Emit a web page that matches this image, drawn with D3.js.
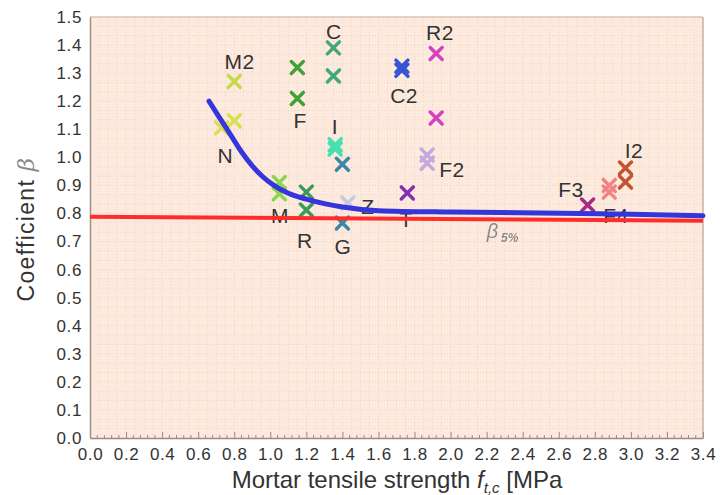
<!DOCTYPE html>
<html>
<head>
<meta charset="utf-8">
<script src="https://cdn.jsdelivr.net/npm/d3@7"></script>
<style>
	body { margin: 0; background: #fff; }
	text { font-family: 'Liberation Sans', Arial, sans-serif; fill: #333; }
</style>
</head>
<body>
<div id="chart-area"></div>
<script>

//************* Data *************//

// measured specimens: series name, x (f_t,c) and y (beta)
const pointSeries = ['M2', 'N', 'N', 'F', 'F', 'C', 'C', 'I', 'I', 'G', 'G', 'M', 'M', 'R', 'R', 'Z',
	'C2', 'C2', 'R2', 'R2', 'F2', 'F2', 'T', 'F3', 'F4', 'F4', 'I2', 'I2'];
const pointX = [0.80, 0.80, 0.73, 1.15, 1.15, 1.35, 1.35, 1.36, 1.36, 1.40, 1.40, 1.05, 1.05, 1.20, 1.20, 1.43,
	1.73, 1.73, 1.92, 1.92, 1.87, 1.87, 1.76, 2.76, 2.88, 2.88, 2.97, 2.97];
const pointY = [1.27, 1.13, 1.105, 1.32, 1.21, 1.39, 1.29, 1.045, 1.03, 0.975, 0.766, 0.91, 0.87, 0.876, 0.812, 0.837,
	1.31, 1.325, 1.37, 1.14, 1.008, 0.979, 0.873, 0.83, 0.90, 0.876, 0.962, 0.912];

const seriesNames = ['M2', 'N', 'F', 'C', 'I', 'G', 'M', 'R', 'Z', 'C2', 'R2', 'F2', 'T', 'F3', 'F4', 'I2'];
const seriesColors = ['#c8d84a', '#d8e050', '#3fa234', '#43a87c', '#45e0ae', '#3a88a6', '#8cd64e', '#3a9a58',
	'#c4cae0', '#3556d2', '#d443c2', '#c2aadc', '#8232b0', '#a42c84', '#f08484', '#c0552e'];

// series labels (placed in data units)
const labelNames = ['M2', 'N', 'F', 'C', 'I', 'M', 'R', 'G', 'Z', 'C2', 'R2', 'F2', 'T', 'F3', 'F4', 'I2'];
const labelX = [0.83, 0.75, 1.165, 1.353, 1.359, 1.054, 1.192, 1.403, 1.542, 1.742, 1.941, 2.008, 1.753, 2.668, 2.917, 3.017];
const labelY = [1.343, 1.008, 1.133, 1.450, 1.111, 0.794, 0.705, 0.684, 0.826, 1.222, 1.446, 0.955, 0.777, 0.887, 0.791, 1.026];

// fitted curve (blue)
const fitX = [0.66, 0.72, 0.78, 0.84, 0.90, 0.96, 1.02, 1.10, 1.20, 1.30, 1.40, 1.60, 2.00, 2.50, 3.00, 3.40];
const fitY = [1.20, 1.14, 1.08, 1.02, 0.97, 0.93, 0.90, 0.872, 0.851, 0.835, 0.823, 0.810, 0.805, 0.802, 0.797, 0.792];

// beta 5% line (red)
const limitX = [0.0, 3.4];
const limitY = [0.788, 0.774];

// ticks
const xTickValues = [0.0, 0.2, 0.4, 0.6, 0.8, 1.0, 1.2, 1.4, 1.6, 1.8, 2.0, 2.2, 2.4, 2.6, 2.8, 3.0, 3.2, 3.4];
const yTickValues = [0.0, 0.1, 0.2, 0.3, 0.4, 0.5, 0.6, 0.7, 0.8, 0.9, 1.0, 1.1, 1.2, 1.3, 1.4, 1.5];

//************* Canvas Set Up *************//

let margin = { left: 90, right: 19, top: 17, bottom: 57 };
let width = 722 - margin.left - margin.right;
let height = 495 - margin.top - margin.bottom;

let svg = d3.select('#chart-area').append('svg')
	.attr('width', 722)
	.attr('height', 495);

let defs = svg.append('defs');
defs.append('filter')
	.attr('id', 'soft')
	.append('feGaussianBlur')
	.attr('stdDeviation', 0.6);

let g = svg.append('g')
	.attr('transform', 'translate(' + margin.left + ', ' + margin.top + ')');

let x = d3.scaleLinear().domain([0, 3.4]).range([0, width]);
let y = d3.scaleLinear().domain([0, 1.5]).range([height, 0]);
let color = d3.scaleOrdinal().domain(seriesNames).range(seriesColors);

// plot background
g.append('rect')
	.attr('width', width)
	.attr('height', height)
	.attr('fill', '#fdeadf');

// dotted fine grid
g.append('g')
	.selectAll('line')
	.data(d3.range(0.05, 3.4, 0.05))
	.enter().append('line')
		.attr('x1', d => x(d)).attr('x2', d => x(d))
		.attr('y1', 0).attr('y2', height)
		.attr('stroke', '#f4cbb5')
		.attr('stroke-width', 0.8)
		.attr('stroke-dasharray', '1,2');
g.append('g')
	.selectAll('line')
	.data(d3.range(1, 45).map(i => i / 30))
	.enter().append('line')
		.attr('x1', 0).attr('x2', width)
		.attr('y1', d => y(d)).attr('y2', d => y(d))
		.attr('stroke', '#f4cbb5')
		.attr('stroke-width', 0.8)
		.attr('stroke-dasharray', '1,2');

// frame
g.append('line').attr('x1', 0).attr('x2', width).attr('y1', 0).attr('y2', 0)
	.attr('stroke', '#d9c4b6').attr('stroke-width', 1.5);
g.append('line').attr('x1', width).attr('x2', width).attr('y1', 0).attr('y2', height)
	.attr('stroke', '#c2b2a6').attr('stroke-width', 1.5);

// x axis (ticks pointing inward)
let xAxisCall = d3.axisBottom(x)
	.tickValues(xTickValues)
	.tickFormat(d3.format('.1f'))
	.tickSizeInner(-6)
	.tickSizeOuter(0)
	.tickPadding(10);
let xAxis = g.append('g')
	.attr('class', 'x-axis')
	.attr('transform', 'translate(0, ' + height + ')')
	.call(xAxisCall);
xAxis.select('.domain').attr('stroke', '#9a8a80').attr('stroke-width', 1.5);
xAxis.selectAll('.tick line').attr('stroke', '#9a8a80');
xAxis.selectAll('text')
	.attr('font-size', '17px')
	.attr('letter-spacing', '0.6px')
	.attr('fill', '#333');

// minor x ticks
xAxis.append('g')
	.selectAll('line')
	.data(d3.range(0.04, 3.4, 0.04).filter(d => Math.abs(d / 0.2 - Math.round(d / 0.2)) > 0.01))
	.enter().append('line')
		.attr('x1', d => x(d)).attr('x2', d => x(d))
		.attr('y1', 0).attr('y2', -3)
		.attr('stroke', '#9a8a80');

// y axis (labels only)
let yAxisCall = d3.axisLeft(y)
	.tickValues(yTickValues)
	.tickFormat(d3.format('.1f'))
	.tickSize(0)
	.tickPadding(8);
let yAxis = g.append('g')
	.attr('class', 'y-axis')
	.call(yAxisCall);
yAxis.select('.domain').attr('stroke', '#a09084').attr('stroke-width', 1.5);
yAxis.selectAll('text')
	.attr('font-size', '17px')
	.attr('letter-spacing', '0.6px')
	.attr('fill', '#333');

// series labels
g.append('g')
	.selectAll('text')
	.data(labelNames)
	.enter().append('text')
		.attr('x', (d, i) => x(labelX[i]))
		.attr('y', (d, i) => y(labelY[i]))
		.attr('text-anchor', 'middle')
		.attr('dominant-baseline', 'central')
		.attr('font-size', '21px')
		.attr('letter-spacing', '0.5px')
		.attr('fill', '#383838')
		.text(d => d);

// markers
g.append('g')
	.attr('filter', 'url(#soft)')
	.selectAll('path')
	.data(pointX)
	.enter().append('path')
		.attr('transform', (d, i) => 'translate(' + x(d) + ',' + y(pointY[i]) + ')')
		.attr('d', 'M-6,-6L6,6M-6,6L6,-6')
		.attr('stroke', (d, i) => color(pointSeries[i]))
		.attr('stroke-width', 3.5)
		.attr('stroke-linecap', 'round')
		.attr('fill', 'none');

// red beta 5% line
let limitData = limitX.map((d, i) => [d, limitY[i]]);
g.append('path')
	.datum(limitData)
	.attr('d', d3.line().x(d => x(d[0])).y(d => y(d[1])))
	.attr('stroke', '#ff2c2c')
	.attr('stroke-width', 4)
	.attr('fill', 'none');

// blue fitted curve
let fitData = fitX.map((d, i) => [d, fitY[i]]);
g.append('path')
	.datum(fitData)
	.attr('d', d3.line().curve(d3.curveMonotoneX).x(d => x(d[0])).y(d => y(d[1])))
	.attr('stroke', '#3535dc')
	.attr('stroke-width', 5)
	.attr('stroke-linecap', 'round')
	.attr('fill', 'none');

// beta 5% annotation
let b5 = g.append('text')
	.attr('x', x(2.20))
	.attr('y', y(0.737) + 7)
	.attr('fill', '#8c8c8c');
b5.append('tspan')
	.attr('font-size', '20px')
	.attr('font-style', 'italic')
	.attr('fill', '#8c8c8c')
	.text('β');
b5.append('tspan')
	.attr('font-size', '12px')
	.attr('font-style', 'italic')
	.attr('font-weight', 'bold')
	.attr('dx', 3)
	.attr('dy', 4)
	.attr('fill', '#8c8c8c')
	.text('5%');

// x label
let xLabel = svg.append('text')
	.attr('class', 'x-axis-label')
	.attr('x', 397)
	.attr('y', 488)
	.attr('font-size', '24px')
	.attr('text-anchor', 'middle');
xLabel.append('tspan').text('Mortar tensile strength ');
xLabel.append('tspan').attr('font-style', 'italic').text('f');
xLabel.append('tspan').attr('font-style', 'italic').attr('font-size', '15px').attr('dy', 5).text('t,c');
xLabel.append('tspan').attr('dy', -5).text(' [MPa');

// y label
let yLabel = svg.append('text')
	.attr('class', 'y-axis-label')
	.attr('transform', 'translate(34, 229) rotate(-90)')
	.attr('font-size', '23px')
	.attr('letter-spacing', '1.3px')
	.attr('text-anchor', 'middle');
yLabel.append('tspan').text('Coefficient ');
yLabel.append('tspan')
	.attr('font-family', "'DejaVu Serif', serif")
	.attr('font-style', 'italic')
	.attr('font-weight', 300)
	.attr('fill', '#8a8a8a')
	.text('β');

</script>
</body>
</html>
